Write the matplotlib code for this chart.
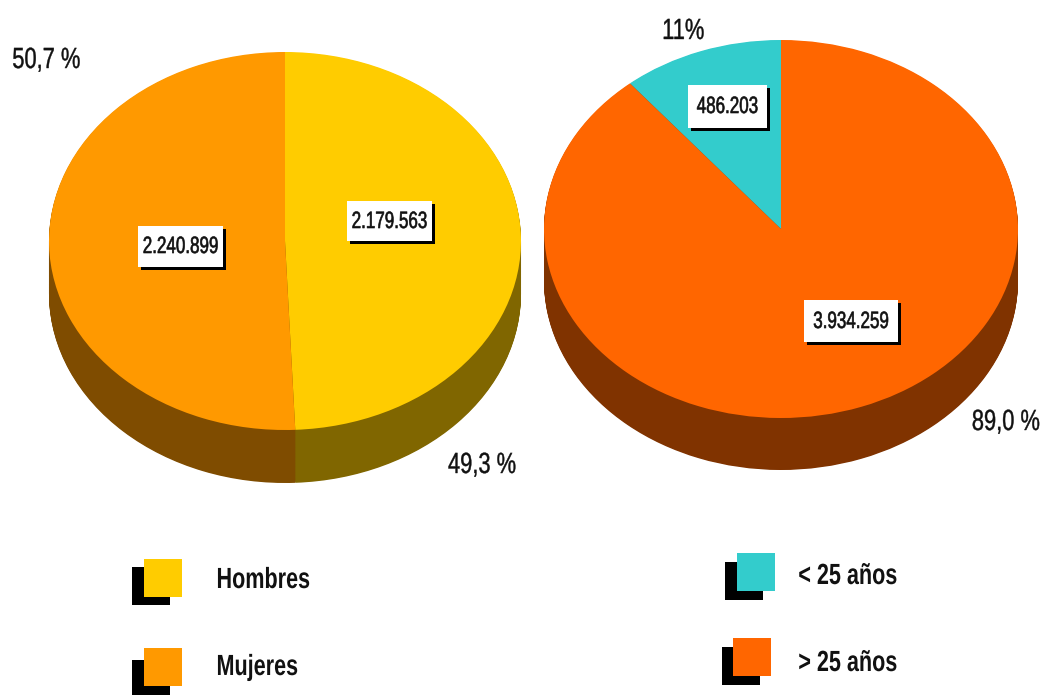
import numpy as np
import matplotlib.pyplot as plt
from matplotlib import patheffects
from matplotlib.patches import Rectangle
from matplotlib.transforms import Affine2D

plt.rcParams['font.family'] = ['Liberation Sans', 'DejaVu Sans']

# data
sexo_labels = ['Hombres', 'Mujeres']
sexo_values = [2179563, 2240899]
sexo_text = ['2.179.563', '2.240.899']
sexo_pct = ['49,3 %', '50,7 %']

edad_labels = ['< 25 años', '> 25 años']
edad_values = [486203, 3934259]
edad_text = ['486.203', '3.934.259']
edad_pct = ['11%', '89,0 %']

sexo_colors = ['#FFCC00', '#FF9900']
sexo_side = ['#806600', '#7F4C00']
edad_colors = ['#33CCCC', '#FF6600']
edad_side = ['#1A6666', '#803300']

W, H = 1043, 695
fig = plt.figure(figsize=(W / 100, H / 100), dpi=100)


class Narrow(patheffects.AbstractPathEffect):
    """squeeze text horizontally to fake a condensed face"""
    def __init__(self, sx=0.76, anchor='center', lw=0.0):
        super().__init__()
        self.sx = sx
        self.anchor = anchor
        self.lw = lw

    def draw_path(self, renderer, gc, tpath, affine, rgbFace=None):
        ext = tpath.get_extents(affine)
        if self.anchor == 'left':
            x0 = ext.x0
        elif self.anchor == 'right':
            x0 = ext.x1
        else:
            x0 = (ext.x0 + ext.x1) / 2
        squeeze = Affine2D().translate(-x0, 0).scale(self.sx, 1).translate(x0, 0)
        if self.lw and rgbFace is not None:
            gc.set_linewidth(self.lw)
            gc.set_foreground(rgbFace)
        renderer.draw_path(gc, tpath, affine + squeeze, rgbFace)


def pie3d(cx, cy, rx, ry, depth, values, colors, side, counterclock):
    # circle of radius 1 squashed into an ellipse by the axes box
    bottom = cy + ry * 1.5
    ax = fig.add_axes([(cx - rx) / W, (H - bottom) / H, 2 * rx / W, 2.5 * ry / H])
    d = depth / ry
    for off in np.linspace(d, 0, 70, endpoint=False):
        ax.pie(values, colors=side, startangle=90, counterclock=counterclock,
               center=(0, -off), wedgeprops={'linewidth': 0})
    ax.pie(values, colors=colors, startangle=90, counterclock=counterclock,
           wedgeprops={'linewidth': 0})
    ax.set_aspect('auto')
    ax.set_xlim(-1, 1)
    ax.set_ylim(-1.5, 1)
    ax.axis('off')
    return ax


pie3d(285, 241, 236, 189, 53, sexo_values, sexo_colors, sexo_side, False)
pie3d(781, 229, 237, 189, 52, edad_values, edad_colors, edad_side, True)

# overlay in pixel coordinates for labels and legend
ov = fig.add_axes([0, 0, 1, 1], facecolor='none')
ov.set_xlim(0, W)
ov.set_ylim(H, 0)
ov.axis('off')


def value_box(x, y, w, h, s):
    ov.add_patch(Rectangle((x - w / 2 + 3, y - h / 2 + 3), w, h, fc='black', ec='none'))
    ov.add_patch(Rectangle((x - w / 2, y - h / 2), w, h, fc='white', ec='none'))
    ov.text(x, y + 1, s, ha='center', va='center', fontsize=17, color='#111111',
            path_effects=[Narrow(0.72, lw=0.45)])


value_box(389.5, 221, 85, 40, sexo_text[0])
value_box(180.5, 246, 85, 41, sexo_text[1])
value_box(727.5, 106, 79, 43, edad_text[0])
value_box(851, 321, 94, 42, edad_text[1])

# percentage labels: (x, y, alignment)
pct_pos = [(482, 465, 'center'), (12, 60, 'left'), (683, 31, 'center'), (1040, 422, 'right')]
for (x, y, a), s in zip(pct_pos, sexo_pct + edad_pct):
    ov.text(x, y, s, ha=a, va='center', fontsize=21, color='#111111',
            path_effects=[Narrow(0.75, a, lw=0.3)])

# legends
leg = [
    (144, 559, 12, 8, sexo_colors[0], sexo_labels[0], 216, 580),
    (144, 648, 12, 12, sexo_colors[1], sexo_labels[1], 216, 667),
    (737, 553, 12, 9, edad_colors[0], edad_labels[0], 798, 576),
    (733, 638, 11, 9, edad_colors[1], edad_labels[1], 798, 663),
]
for x, y, dx, dy, c, lab, tx, ty in leg:
    ov.add_patch(Rectangle((x - dx, y + dy), 38, 38, fc='black', ec='none'))
    ov.add_patch(Rectangle((x, y), 38, 38, fc=c, ec='none'))
    ov.text(tx, ty, lab, ha='left', va='center', fontsize=21, fontweight='bold',
            color='#111111', path_effects=[Narrow(0.74, 'left')])

fig.savefig('out.png', dpi=100)
